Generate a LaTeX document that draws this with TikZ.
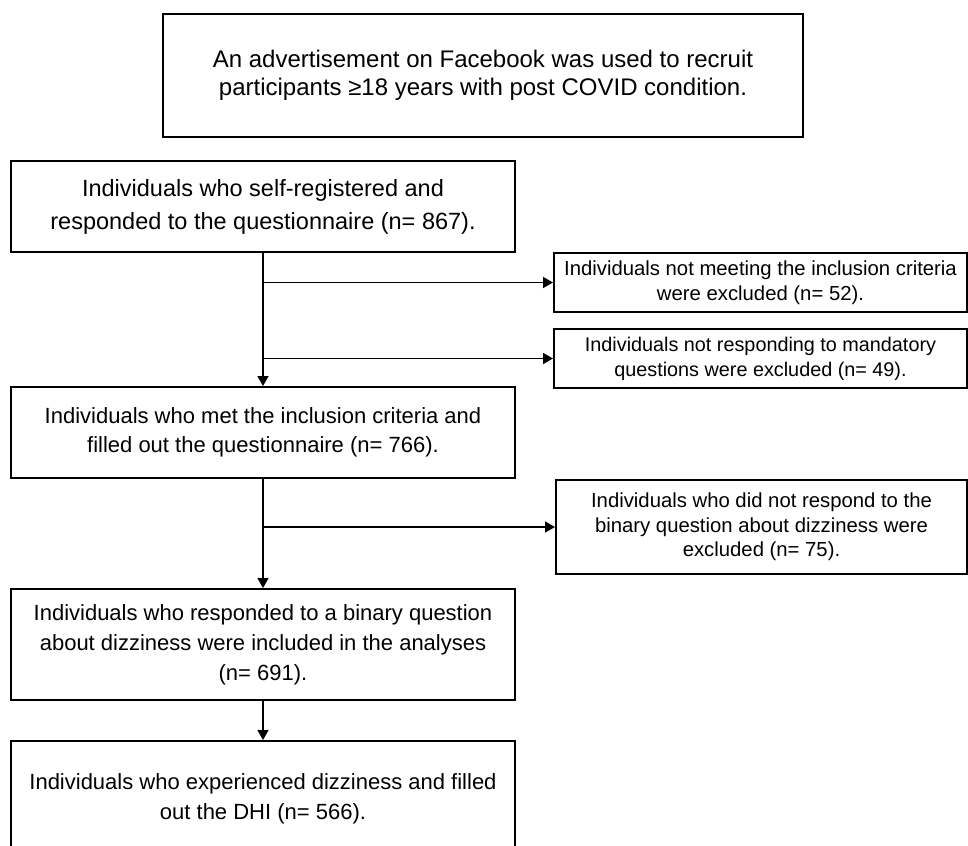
\documentclass[tikz,border=0pt]{standalone}
\usepackage{fontspec}
\setmainfont{Liberation Sans}
\usetikzlibrary{arrows.meta}
\begin{document}
\begin{tikzpicture}[x=1pt,y=-1pt,
  box/.style={draw, rectangle, line width=2pt, align=center, inner sep=0pt, anchor=north west},
  conn/.style={line width=1.7pt, -{Triangle[length=10pt,width=11pt]}}]
\useasboundingbox (0,0) rectangle (968,845);
\clip (0,0) rectangle (968,845);
\node[box, minimum width=640pt, minimum height=123pt, font=\fontsize{24}{28}\selectfont] (top) at (162,13)
  {An advertisement on Facebook was used to recruit\\participants ≥18 years with post COVID condition.};
\node[box, minimum width=504pt, minimum height=91pt, font=\fontsize{23.5}{33}\selectfont] (b1) at (10,160)
  {Individuals who self-registered and\\responded to the questionnaire (n= 867).};
\node[box, minimum width=413pt, minimum height=59pt, font=\fontsize{20.3}{25}\selectfont] (e1) at (553,252)
  {Individuals not meeting the inclusion criteria\\were excluded (n= 52).};
\node[box, minimum width=413pt, minimum height=59pt, font=\fontsize{19.8}{25}\selectfont] (e2) at (553,328)
  {Individuals not responding to mandatory\\questions were excluded (n= 49).};
\node[box, minimum width=504pt, minimum height=91pt, font=\fontsize{22}{28.5}\selectfont] (b2) at (10,386)
  {Individuals who met the inclusion criteria and\\filled out the questionnaire (n= 766).};
\node[box, minimum width=411pt, minimum height=94pt, font=\fontsize{20.3}{24.5}\selectfont] (e3) at (555,479)
  {Individuals who did not respond to the\\binary question about dizziness were\\excluded (n= 75).};
\node[box, minimum width=504pt, minimum height=111pt, font=\fontsize{22}{30}\selectfont] (b3) at (10,588)
  {Individuals who responded to a binary question\\about dizziness were included in the analyses\\(n= 691).};
\node[box, minimum width=504pt, minimum height=115pt, font=\fontsize{22}{30}\selectfont] (b4) at (10,740)
  {Individuals who experienced dizziness and filled\\out the DHI (n= 566).};
\draw[conn] (b1.south) -- (b2.north);
\draw[conn] (b1.south |- e1.west) -- (e1.west);
\draw[conn] (b1.south |- e2.west) -- (e2.west);
\draw[conn] (b2.south) -- (b3.north);
\draw[conn] (b2.south |- e3.west) -- (e3.west);
\draw[conn] (b3.south) -- (b4.north);
\end{tikzpicture}
\end{document}
